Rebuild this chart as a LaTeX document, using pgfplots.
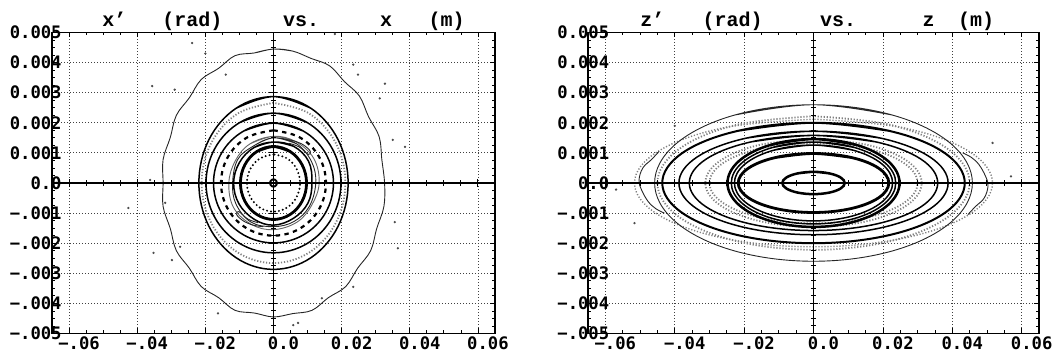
\documentclass[border=0pt]{standalone}
\usepackage{fontspec}
\usepackage{pgfplots}
\pgfplotsset{compat=1.18}
\newfontfamily\lblfont{DejaVu Sans Mono}
\newfontfamily\ttlfont{Liberation Mono}
\newcommand\lblf{\lblfont\bfseries\fontsize{8.6}{10}\selectfont}
\newcommand\ttlf{\ttlfont\bfseries\fontsize{10}{12}\selectfont}
\tikzset{
  lnA/.style={black!85, line width=0.45pt, smooth, tension=0.63, mark=none},
  lnB/.style={black, line width=0.75pt, smooth, tension=0.63, mark=none},
  lnC/.style={black, line width=1.25pt, smooth, tension=0.63, mark=none},
  lnD/.style={black!50, line width=0.9pt, dash pattern=on 0.6pt off 0.9pt, smooth, tension=0.63, mark=none},
  lnE/.style={black, line width=1.1pt, dash pattern=on 2.2pt off 2.2pt, smooth, tension=0.63, mark=none},
  lnF/.style={black, line width=1.1pt, line cap=round, dash pattern=on 0pt off 2pt, smooth, tension=0.63, mark=none},
  dots/.style={only marks, mark=*, mark size=0.35pt, black!70},
}
\pgfplotsset{
  phase/.style={
    scale only axis, height=150.5pt,
    xmin=-65, xmax=65, ymin=-5, ymax=5,
    xtick={-60,-40,-20,0,20,40,60},
    ytick={-5,-4,-3,-2,-1,0,1,2,3,4,5},
    xticklabels={−.06,−.04,−.02,0.0,0.02,0.04,0.06},
    yticklabels={−.005,−.004,−.003,−.002,−.001,0.0,0.001,0.002,0.003,0.004,0.005},
    minor x tick num=3, minor y tick num=3,
    tick align=inside, tick pos=both,
    xticklabel pos=bottom, yticklabel pos=left,
    major tick length=2.5pt, minor tick length=1.5pt,
    grid=major,
    major grid style={black!75, line width=0.4pt, dash pattern=on 0.45pt off 1.05pt},
    axis line style={line width=0.7pt},
    tick style={black, line width=0.4pt},
    xticklabel style={font=\lblf, anchor=north, inner sep=0pt, xshift=5pt, yshift=-1.2pt},
    yticklabel style={font=\lblf, anchor=east, inner sep=0pt, xshift=5pt},
    clip=false,
    anchor=south west,
  },
  center/.style={
    scale only axis, height=150.5pt,
    xmin=-65, xmax=65, ymin=-5, ymax=5,
    axis lines=middle,
    axis line style={-, line width=0.8pt},
    xtick={-60,-40,-20,0,20,40,60},
    ytick={-5,-4,-3,-2,-1,0,1,2,3,4,5},
    minor x tick num=3, minor y tick num=3,
    xticklabels={,,,,,,}, yticklabels={,,,,,,,,,,},
    tick align=center,
    major tick length=4pt, minor tick length=2.6pt,
    tick style={black, line width=0.5pt},
    anchor=south west,
  },
}
\begin{document}
\begin{tikzpicture}
\useasboundingbox (0,0) rectangle (526.5pt,175.5pt);
% ---------------- left panel: x' (mrad) vs x (mm) ----------------
\begin{axis}[phase, width=221.5pt, at={(26pt,8.75pt)}]
\addplot[lnA, tension=0.6] coordinates {(5.7,4.38)(0,4.45)(-5.6,4.32)(-11.3,4.23)(-16.1,3.81)(-21.2,3.44)(-24.7,2.83)(-28.5,2.25)(-30.3,1.51)(-32.4,0.78)(-32.4,0)(-32.4,-0.78)(-30.3,-1.51)(-28.5,-2.25)(-24.7,-2.83)(-21.2,-3.44)(-16.1,-3.81)(-11.3,-4.23)(-5.6,-4.32)(0,-4.45)(5.6,-4.34)(11.3,-4.23)(16.1,-3.81)(21.2,-3.44)(24.7,-2.83)(28.5,-2.25)(30.3,-1.51)(32.4,-0.78)(32.6,0)(31.8,0.77)(31.0,1.54)(27.9,2.20)(25.2,2.89)(20.8,3.37)(16.5,3.89)(11.0,4.14)(5.7,4.38)(0,4.45)(-5.6,4.32)};
\addplot[dots] coordinates {(-23.9,4.65)(-35.6,3.22)(-29.0,3.1)(18.0,4.95)(24.8,3.6)(31.2,2.81)(23.4,3.93)(-35.2,-2.32)(-29.8,-2.56)(-27.4,-2.12)(23.4,-3.45)(14.2,-3.83)(5.8,-4.72)(-16.3,-4.33)(-42.6,-0.83)(-36.2,0.1)(-31.8,-0.66)(32.7,3.3)(35.0,1.43)(38.6,1.2)(35.6,-1.3)(36.5,-2.17)(7.2,-4.65)(-20,4.3)(-14,3.6)};
\addplot[lnB] coordinates {(10.95,2.485)(0,2.87)(-10.95,2.485)(-18.97,1.435)(-21.9,0)(-18.97,-1.435)(-10.95,-2.485)(0,-2.87)(10.95,-2.485)(18.97,-1.435)(21.9,0)(18.97,1.435)(10.95,2.485)(0,2.87)(-10.95,2.485)};
\addplot[lnD] coordinates {(0,2.66)(-10.55,2.304)(-18.27,1.33)(-21.1,0)(-18.27,-1.33)(-10.55,-2.304)(0,-2.66)(10.55,-2.304)(18.27,-1.33)(21.1,0)(18.27,1.33)(10.55,2.304)(0,2.66)};
\addplot[lnB] coordinates {(9.9,2.009)(0,2.32)(-9.9,2.009)(-17.15,1.16)(-19.8,0)(-17.15,-1.16)(-9.9,-2.009)(0,-2.32)(9.9,-2.009)(17.15,-1.16)(19.8,0)(17.15,1.16)(9.9,2.009)(0,2.32)(-9.9,2.009)};
\addplot[lnB] coordinates {(8.8,1.723)(0,1.99)(-8.8,1.723)(-15.24,0.995)(-17.6,0)(-15.24,-0.995)(-8.8,-1.723)(0,-1.99)(8.8,-1.723)(15.24,-0.995)(17.6,0)(15.24,0.995)(8.8,1.723)(0,1.99)(-8.8,1.723)};
\addplot[lnE] coordinates {(0,1.75)(-7.7,1.516)(-13.34,0.875)(-15.4,0)(-13.34,-0.875)(-7.7,-1.516)(0,-1.75)(7.7,-1.516)(13.34,-0.875)(15.4,0)(13.34,0.875)(7.7,1.516)(0,1.75)};
\addplot[lnA, black!60] coordinates {(6.4,1.38)(0,1.55)(-6.9,1.30)(-11.2,0.74)(-13.1,0)(-11.7,-0.82)(-6.4,-1.38)(0,-1.55)(6.9,-1.30)(11.2,-0.74)(13.4,0)(11.8,0.82)(6.4,1.38)(0,1.55)(-6.9,1.30)};
\addplot[lnA] coordinates {(6.8,1.30)(0,1.50)(-6.0,1.22)(-10.5,0.78)(-12.0,0)(-11.0,-0.70)(-6.6,-1.30)(0,-1.45)(6.0,-1.28)(10.5,-0.78)(12.4,0)(11.2,0.70)(6.8,1.30)(0,1.50)(-6.0,1.22)};
\addplot[lnB] coordinates {(5.9,1.22)(0,1.36)(-5.7,1.18)(-10.0,0.68)(-11.7,0)(-10.1,-0.70)(-5.6,-1.21)(0,-1.40)(5.9,-1.17)(10.1,-0.67)(11.3,0)(10.3,0.72)(5.9,1.22)(0,1.36)(-5.7,1.18)};
\addplot[lnA] coordinates {(3,1.45)(6,1.40)(9,1.25)(10.8,1.05)(10.2,0.95)(7.5,1.2)(4.5,1.32)};
\addplot[lnA] coordinates {(-3,-1.45)(-6,-1.40)(-9,-1.25)(-10.8,-1.05)(-10.2,-0.95)(-7.5,-1.2)(-4.5,-1.32)};
\addplot[lnC, line width=1.4pt] coordinates {(4.85,1.048)(0,1.21)(-4.85,1.048)(-8.4,0.605)(-9.7,0)(-8.4,-0.605)(-4.85,-1.048)(0,-1.21)(4.85,-1.048)(8.4,-0.605)(9.7,0)(8.4,0.605)(4.85,1.048)(0,1.21)(-4.85,1.048)};
\addplot[lnF] coordinates {(0,0.95)(-3.9,0.823)(-6.75,0.475)(-7.8,0)(-6.75,-0.475)(-3.9,-0.823)(0,-0.95)(3.9,-0.823)(6.75,-0.475)(7.8,0)(6.75,0.475)(3.9,0.823)(0,0.95)};
\addplot[lnC, line width=1pt] coordinates {(0.5,0.104)(0,0.12)(-0.5,0.104)(-0.866,0.06)(-1,0)(-0.866,-0.06)(-0.5,-0.104)(0,-0.12)(0.5,-0.104)(0.866,-0.06)(1,0)(0.866,0.06)(0.5,0.104)(0,0.12)(-0.5,0.104)};
\node[anchor=base west, font=\ttlf, inner sep=0pt, yshift=2.75pt] at (rel axis cs:0.113,1) {x’};
\node[anchor=base west, font=\ttlf, inner sep=0pt, yshift=2.75pt] at (rel axis cs:0.248,1) {(rad)};
\node[anchor=base west, font=\ttlf, inner sep=0pt, yshift=2.75pt] at (rel axis cs:0.521,1) {vs.};
\node[anchor=base west, font=\ttlf, inner sep=0pt, yshift=2.75pt] at (rel axis cs:0.740,1) {x};
\node[anchor=base west, font=\ttlf, inner sep=0pt, yshift=2.75pt] at (rel axis cs:0.849,1) {(m)};
\end{axis}
\begin{axis}[center, width=221.5pt, at={(26pt,8.75pt)}]
\end{axis}
% ---------------- right panel: z' (mrad) vs z (mm) ----------------
\begin{axis}[phase, width=225.5pt, at={(294pt,8.75pt)}, yticklabel style={xshift=5.8pt}]
\addplot[lnD, line width=0.7pt] coordinates {(0,2.12)(-25.8,1.836)(-44.69,1.06)(-51.6,0)(-44.69,-1.06)(-25.8,-1.836)(0,-2.12)(25.8,-1.836)(44.69,-1.06)(51.6,0)(44.69,1.06)(25.8,1.836)(0,2.12)};
\addplot[lnA] coordinates {(22.9,2.252)(0,2.6)(-22.9,2.252)(-39.66,1.3)(-45.8,0)(-39.66,-1.3)(-22.9,-2.252)(0,-2.6)(22.9,-2.252)(39.66,-1.3)(45.8,0)(39.66,1.3)(22.9,2.252)(0,2.6)(-22.9,2.252)};
\addplot[lnD] coordinates {(0,2.22)(-22.5,1.923)(-38.97,1.11)(-45.0,0)(-38.97,-1.11)(-22.5,-1.923)(0,-2.22)(22.5,-1.923)(38.97,-1.11)(45.0,0)(38.97,1.11)(22.5,1.923)(0,2.22)};
\addplot[lnC, line width=1pt] coordinates {(21.8,1.732)(0,2.0)(-21.8,1.732)(-37.76,1.0)(-43.6,0)(-37.76,-1.0)(-21.8,-1.732)(0,-2.0)(21.8,-1.732)(37.76,-1.0)(43.6,0)(37.76,1.0)(21.8,1.732)(0,2.0)(-21.8,1.732)};
\addplot[lnB] coordinates {(19.4,1.49)(0,1.72)(-19.4,1.49)(-33.6,0.86)(-38.8,0)(-33.6,-0.86)(-19.4,-1.49)(0,-1.72)(19.4,-1.49)(33.6,-0.86)(38.8,0)(33.6,0.86)(19.4,1.49)(0,1.72)(-19.4,1.49)};
\addplot[lnB] coordinates {(17.9,1.368)(0,1.58)(-17.9,1.368)(-31.0,0.79)(-35.8,0)(-31.0,-0.79)(-17.9,-1.368)(0,-1.58)(17.9,-1.368)(31.0,-0.79)(35.8,0)(31.0,0.79)(17.9,1.368)(0,1.58)(-17.9,1.368)};
\addplot[lnD] coordinates {(0,1.46)(-15.6,1.264)(-27.02,0.73)(-31.2,0)(-27.02,-0.73)(-15.6,-1.264)(0,-1.46)(15.6,-1.264)(27.02,-0.73)(31.2,0)(27.02,0.73)(15.6,1.264)(0,1.46)};
\addplot[lnD] coordinates {(0,1.34)(-15,1.16)(-25.98,0.67)(-30,0)(-25.98,-0.67)(-15,-1.16)(0,-1.34)(15,-1.16)(25.98,-0.67)(30,0)(25.98,0.67)(15,1.16)(0,1.34)};
\addplot[lnC] coordinates {(12.4,1.264)(0,1.46)(-12.4,1.264)(-21.48,0.73)(-24.8,0)(-21.48,-0.73)(-12.4,-1.264)(0,-1.46)(12.4,-1.264)(21.48,-0.73)(24.8,0)(21.48,0.73)(12.4,1.264)(0,1.46)(-12.4,1.264)};
\addplot[lnB] coordinates {(11.85,1.178)(0,1.36)(-11.85,1.178)(-20.52,0.68)(-23.7,0)(-20.52,-0.68)(-11.85,-1.178)(0,-1.36)(11.85,-1.178)(20.52,-0.68)(23.7,0)(20.52,0.68)(11.85,1.178)(0,1.36)(-11.85,1.178)};
\addplot[lnB] coordinates {(11.4,1.091)(0,1.26)(-11.4,1.091)(-19.74,0.63)(-22.8,0)(-19.74,-0.63)(-11.4,-1.091)(0,-1.26)(11.4,-1.091)(19.74,-0.63)(22.8,0)(19.74,0.63)(11.4,1.091)(0,1.26)(-11.4,1.091)};
\addplot[lnC, line width=1.4pt] coordinates {(10.85,0.849)(0,0.98)(-10.85,0.849)(-18.79,0.49)(-21.7,0)(-18.79,-0.49)(-10.85,-0.849)(0,-0.98)(10.85,-0.849)(18.79,-0.49)(21.7,0)(18.79,0.49)(10.85,0.849)(0,0.98)(-10.85,0.849)};
\addplot[lnC] coordinates {(4.5,0.32)(0,0.37)(-4.5,0.32)(-7.79,0.185)(-9,0)(-7.79,-0.185)(-4.5,-0.32)(0,-0.37)(4.5,-0.32)(7.79,-0.185)(9,0)(7.79,0.185)(4.5,0.32)(0,0.37)(-4.5,0.32)};
\addplot[lnA] coordinates {(-44.5,1.05)(-46.7,0.78)(-49.2,0.50)(-50.3,0.10)(-49.6,-0.22)(-47.7,-0.61)(-45.5,-0.85)(-43.0,-1.0)};
\addplot[lnA] coordinates {(44.5,-1.05)(46.7,-0.78)(49.2,-0.50)(50.3,-0.10)(49.6,0.22)(47.7,0.61)(45.5,0.85)(43.0,1.0)};
\addplot[dots] coordinates {(-56.9,-0.22)(-51.6,-1.33)(56.9,0.22)(51.6,1.33)(-40,1.9)(40,-1.9)};
\node[anchor=base west, font=\ttlf, inner sep=0pt, yshift=2.75pt] at (rel axis cs:0.115,1) {z’};
\node[anchor=base west, font=\ttlf, inner sep=0pt, yshift=2.75pt] at (rel axis cs:0.253,1) {(rad)};
\node[anchor=base west, font=\ttlf, inner sep=0pt, yshift=2.75pt] at (rel axis cs:0.514,1) {vs.};
\node[anchor=base west, font=\ttlf, inner sep=0pt, yshift=2.75pt] at (rel axis cs:0.741,1) {z};
\node[anchor=base west, font=\ttlf, inner sep=0pt, yshift=2.75pt] at (rel axis cs:0.820,1) {(m)};
\end{axis}
\begin{axis}[center, width=225.5pt, at={(294pt,8.75pt)}]
\end{axis}
\end{tikzpicture}
\end{document}
